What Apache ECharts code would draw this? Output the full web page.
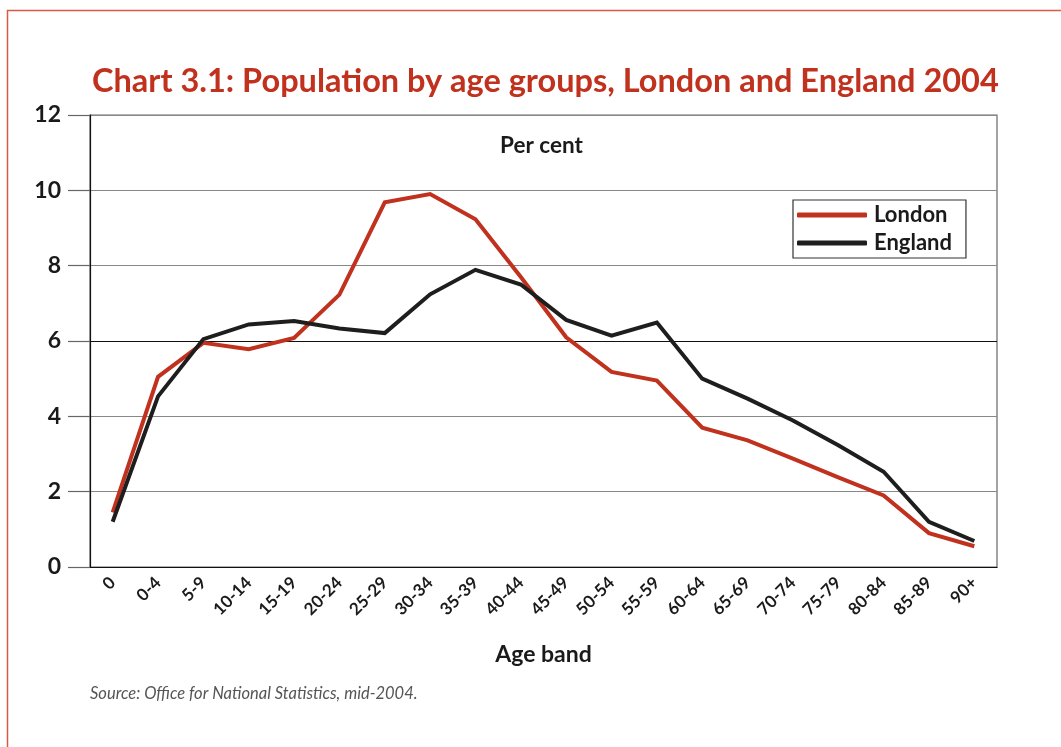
<!DOCTYPE html>
<html>
<head>
<meta charset="utf-8">
<script src="https://cdn.jsdelivr.net/npm/echarts@6/dist/echarts.min.js"></script>
<style>html,body{margin:0;padding:0;background:#fff;}#c{width:1061px;height:747px;}</style>
</head>
<body>
<div id="c"></div>
<script>
const categories = ['0','0-4','5-9','10-14','15-19','20-24','25-29','30-34','35-39','40-44','45-49','50-54','55-59','60-64','65-69','70-74','75-79','80-84','85-89','90+'];
const london  = [1.45, 5.05, 5.95, 5.78, 6.08, 7.23, 9.68, 9.9, 9.23, 7.7, 6.1, 5.18, 4.95, 3.7, 3.36, 2.88, 2.38, 1.9, 0.9, 0.55];
const england = [1.2, 4.53, 6.05, 6.44, 6.53, 6.33, 6.21, 7.24, 7.89, 7.5, 6.56, 6.14, 6.49, 5.0, 4.47, 3.89, 3.23, 2.53, 1.2, 0.69];
const yTicks = [0, 2, 4, 6, 8, 10, 12];

const FONT = 'Lato, "Open Sans", sans-serif';
const chart = echarts.init(document.getElementById('c'), null, {renderer: 'canvas'});
chart.setOption({
  backgroundColor: '#fff',
  animation: false,
  title: [
    {text: 'Chart 3.1: Population by age groups, London and England 2004', left: 87, top: 60,
     textStyle: {fontFamily: FONT, fontWeight: 'bold', fontSize: 32.5, color: '#c0311e'}},
    {text: 'Per cent', left: 495, top: 129,
     textStyle: {fontFamily: FONT, fontWeight: 'bold', fontSize: 22.5, color: '#1a1a1a'}},
    {text: 'Source: Office for National Statistics, mid-2004.', left: 85, top: 680,
     textStyle: {fontFamily: FONT, fontStyle: 'italic', fontWeight: 'normal', fontSize: 16.5, color: '#555'}}
  ],
  graphic: [
    {type: 'rect', shape: {x: 7.5, y: 10.5, width: 1200, height: 900}, silent: true,
     style: {fill: 'none', stroke: '#db5a44', lineWidth: 1.5}}
  ],
  legend: {
    orient: 'vertical', left: 793, top: 200,
    padding: [4, 14, 4, 4], itemGap: 6,
    itemWidth: 70, itemHeight: 5, icon: 'roundRect',
    borderColor: '#333', borderWidth: 1.2, backgroundColor: '#fff',
    textStyle: {fontFamily: FONT, fontWeight: 'bold', fontSize: 22, color: '#1a1a1a', padding: [0, 0, 0, 2]},
    data: ['London', 'England']
  },
  grid: {left: 90, right: 64, top: 115, bottom: 180, show: true, borderColor: '#666', borderWidth: 1.2, backgroundColor: 'transparent'},
  xAxis: {
    type: 'category', data: categories, boundaryGap: true,
    name: 'Age band', nameLocation: 'middle', nameGap: 76,
    nameTextStyle: {fontFamily: FONT, fontWeight: 'bold', fontSize: 23, color: '#1a1a1a'},
    axisLine: {lineStyle: {color: '#111', width: 1.2}},
    axisTick: {alignWithLabel: true, length: 11, lineStyle: {color: '#111', width: 1.2}},
    axisLabel: {rotate: 45, margin: 13, interval: 0, fontFamily: FONT, fontWeight: 'bold', fontSize: 17, color: '#1a1a1a'},
    splitLine: {show: false}
  },
  yAxis: {
    type: 'value', min: 0, max: 12, interval: 2,
    axisLine: {show: true, lineStyle: {color: '#111', width: 1.2}},
    axisTick: {show: true, length: 22, lineStyle: {color: '#666', width: 1.2}},
    axisLabel: {margin: 29, fontFamily: FONT, fontWeight: 'bold', fontSize: 23, color: '#1a1a1a',
      formatter: v => yTicks.includes(v) ? String(v) : ''},
    splitLine: {show: true, lineStyle: {color: ['#888', '#888', '#888', '#111', '#888', '#888', '#888'], width: 1.2}}
  },
  series: [
    {name: 'London', type: 'line', data: london, symbol: 'none', color: '#c0311e',
     lineStyle: {width: 4, color: '#c0311e', join: 'miter'}, z: 3},
    {name: 'England', type: 'line', data: england, symbol: 'none', color: '#1e1e1e',
     lineStyle: {width: 4, color: '#1e1e1e', join: 'miter'}, z: 4}
  ]
});
</script>
</body>
</html>
